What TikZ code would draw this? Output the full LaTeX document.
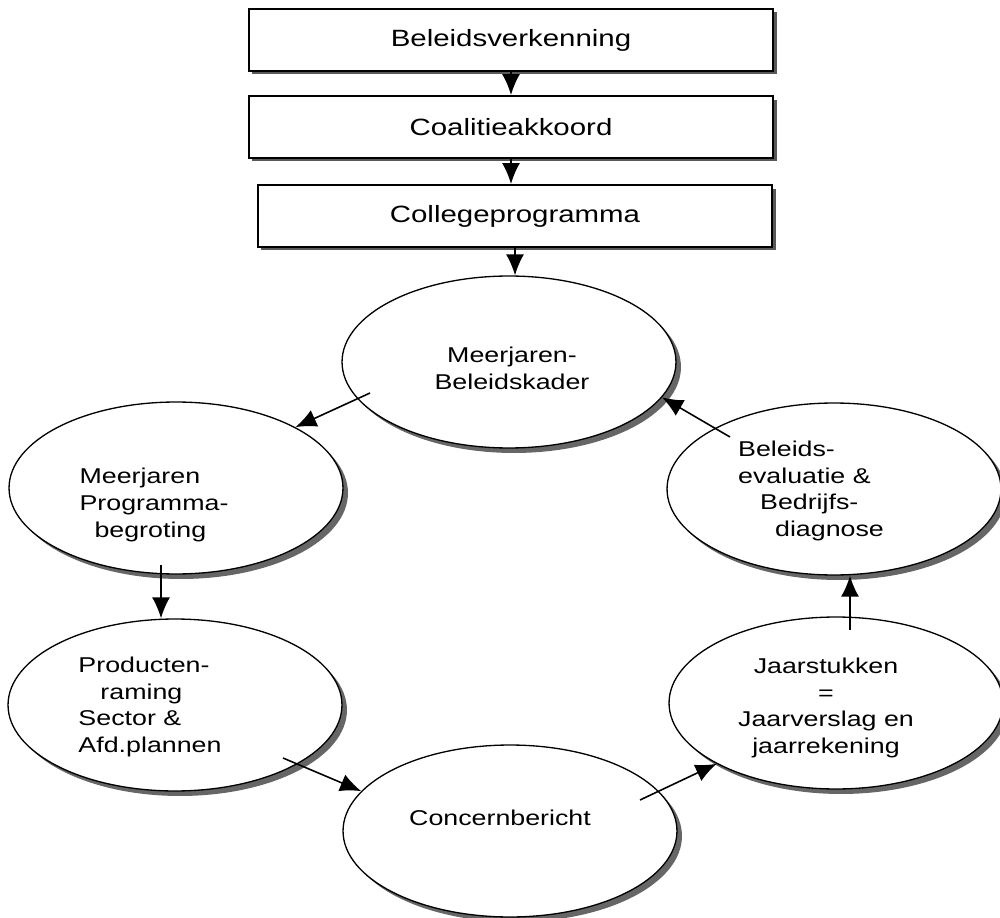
\documentclass[tikz,border=0pt]{standalone}
\usepackage{fontspec}
\setmainfont[FakeStretch=1.25]{Liberation Sans}
\usetikzlibrary{shapes.geometric}
\usetikzlibrary{shadows}
\usetikzlibrary{arrows.meta}

\begin{document}
\begin{tikzpicture}
    [
    x=0.02cm, y=-0.02cm,
    stage/.style={rectangle,draw,line width=1.1pt,fill=white,minimum width=10.5cm,minimum height=1.24cm,
      font=\fontsize{13.4}{16}\selectfont,
      drop shadow={shadow xshift=0.07cm,shadow yshift=-0.07cm,fill=black!65,opacity=1}},
    phase/.style={ellipse,draw,line width=0.75pt,fill=white,inner sep=0pt,minimum width=6.68cm,minimum height=3.44cm,
      drop shadow={shadow xshift=0.1cm,shadow yshift=-0.1cm,fill=black!60,opacity=1}},
    txt/.style={font=\fontsize{12.2}{15.3}\selectfont,inner sep=0pt},
    arr/.style={-{Latex[length=4.2mm,width=3.6mm]},line width=0.9pt},
    ]
    \useasboundingbox (0,0) rectangle (1000,918);

    \node (b1) at (511,40) [stage] {Beleidsverkenning};
    \node (b2) at (511,127) [stage] {Coalitieakkoord};
    \node (b3) at (515,216) [stage,minimum width=10.3cm] {Collegeprogramma};
    \draw [arr] (b1.south) -- (b2.north);
    \draw [arr] (b2.south) -- (b2.south |- b3.north);

    \node (e1) at (509,362) [phase] {};
    \node (e2) at (176,488) [phase] {};
    \node (e3) at (834,489) [phase] {};
    \node (e4) at (175,705) [phase] {};
    \node (e5) at (510,831) [phase] {};
    \node (e6) at (836,703) [phase] {};
    \draw [arr] (b3.south) -- (b3.south |- e1.north);

    \node (t1) at (512,368) [txt,align=center] {Meerjaren-\\Beleidskader};
    \node (t2) at (154,505) [txt,align=left] {Meerjaren\\Programma-\\\hspace*{0.3cm}begroting};
    \node (t3) at (811,491) [txt,align=left] {Beleids-\\evaluatie \&\\\hspace*{0.44cm}Bedrijfs-\\\hspace*{0.74cm}diagnose};
    \node (t4) at (150,707) [txt,align=left] {Producten-\\\hspace*{0.44cm}raming\\Sector \&\\Afd.plannen};
    \node (t5) at (500,818) [txt] {Concernbericht};
    \node (t6) at (826,708) [txt,align=center] {Jaarstukken\\=\\Jaarverslag en\\jaarrekening};

    \coordinate (s12) at (370,393);
    \coordinate (s24) at (161,565);
    \coordinate (s45) at (283,758);
    \coordinate (s56) at (640,800);
    \coordinate (s63) at (850,630);
    \coordinate (s31) at (730,437);
    \draw [arr] (s12) -- (e2.27);
    \draw [arr] (s24) -- (s24 |- e4.north);
    \draw [arr] (s45) -- (e5.165);
    \draw [arr] (s56) -- (e6.207);
    \draw [arr] (s63) -- (s63 |- e3.south);
    \draw [arr] (s31) -- (e1.-13);
  \end{tikzpicture}
\end{document}
